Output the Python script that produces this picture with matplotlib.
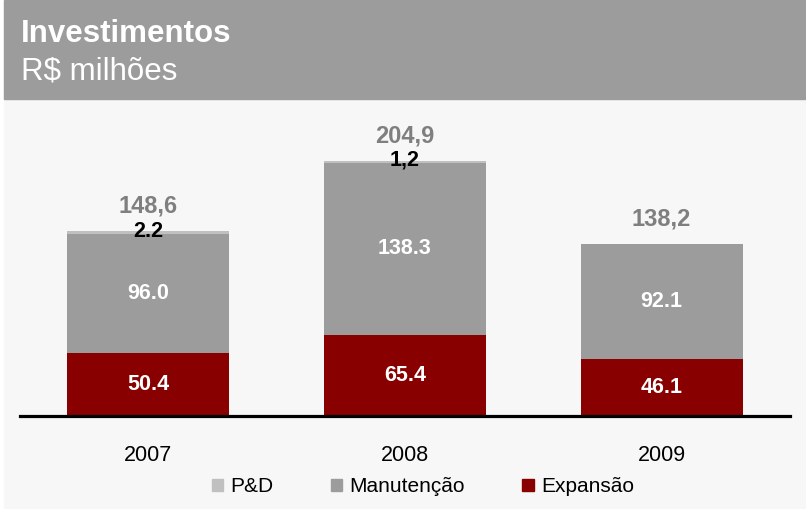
import matplotlib
matplotlib.use("Agg")
import matplotlib.pyplot as plt
from matplotlib.patches import Rectangle, Patch

plt.rcParams["font.family"] = ["Liberation Sans", "DejaVu Sans"]

# Dados
anos = ["2007", "2008", "2009"]
expansao = [50.4, 65.4, 46.1]
manutencao = [96.0, 138.3, 92.1]
pd_vals = [2.2, 1.2, 0.0]
totais_txt = ["148,6", "204,9", "138,2"]
exp_txt = ["50.4", "65.4", "46.1"]
man_txt = ["96.0", "138.3", "92.1"]
pd_txt = ["2.2", "1,2", ""]

COR_EXP = "#880000"
COR_MAN = "#9c9c9c"
COR_PD = "#c0c0c0"
COR_FUNDO = "#f7f7f7"

W, H = 806, 509
fig = plt.figure(figsize=(W / 100, H / 100), dpi=100)
fig.patch.set_facecolor("white")

# Fundo e faixa do título
fig.patches.append(Rectangle((4 / W, 0), 1, 1, transform=fig.transFigure,
                             color=COR_FUNDO, zorder=0))
fig.patches.append(Rectangle((4 / W, 1 - 99 / H), 1, 99 / H, transform=fig.transFigure,
                             color="#9c9c9c", zorder=0))
fig.text(21 / W, 1 - 42 / H, "Investimentos", color="white", fontsize=22.5,
         fontweight="bold", va="baseline", ha="left")
fig.text(21 / W, 1 - 79 / H, "R$ milhões", color="white", fontsize=22.5,
         va="baseline", ha="left")

# Eixo
ax = fig.add_axes([20 / W, 93 / H, 770 / W, 306 / H])
ax.set_zorder(2)
ax.set_facecolor("none")
x = list(range(len(anos)))
largura = 0.63

ax.bar(x, expansao, width=largura, color=COR_EXP, zorder=2)
base2 = expansao
ax.bar(x, manutencao, width=largura, bottom=base2, color=COR_MAN, zorder=2)
base3 = [a + b for a, b in zip(expansao, manutencao)]
ax.bar(x, pd_vals, width=largura, bottom=base3, color=COR_PD, zorder=2)

ax.set_xlim(-0.5, 2.5)
ax.set_ylim(0, 246)

for i in x:
    ax.text(i, expansao[i] / 2, exp_txt[i], color="white", fontsize=15.5,
            fontweight="bold", ha="center", va="center", zorder=3)
    ax.text(i, expansao[i] + manutencao[i] / 2, man_txt[i], color="white",
            fontsize=15.5, fontweight="bold", ha="center", va="center", zorder=3)
    if pd_txt[i]:
        ax.annotate(pd_txt[i], (i, base3[i]), xytext=(0, 2), textcoords="offset points",
                    color="black", fontsize=15.5, fontweight="bold",
                    ha="center", va="center", zorder=3)
    total = base3[i] + pd_vals[i]
    ax.annotate(totais_txt[i], (i, total), xytext=(0, 18), textcoords="offset points",
                color="#7f7f7f", fontsize=17, fontweight="bold",
                ha="center", va="center", zorder=3)

for s in ["top", "left", "right"]:
    ax.spines[s].set_visible(False)
ax.spines["bottom"].set_linewidth(2.3)
ax.spines["bottom"].set_color("black")
ax.spines["bottom"].set_zorder(4)
ax.set_yticks([])
ax.set_xticks(x)
ax.set_xticklabels(anos, fontsize=15.5, color="black")
ax.tick_params(axis="x", length=0, pad=21)

handles = [Patch(color=COR_PD, label="P&D"),
           Patch(color=COR_MAN, label="Manutenção"),
           Patch(color=COR_EXP, label="Expansão")]
fig.legend(handles=handles, loc="center", bbox_to_anchor=(423 / W, 1 - 487 / H),
           ncol=3, frameon=False, fontsize=15, handlelength=0.55, handleheight=0.55,
           handletextpad=0.35, columnspacing=2.75)

fig.savefig("out.png", dpi=100, facecolor=fig.get_facecolor())
